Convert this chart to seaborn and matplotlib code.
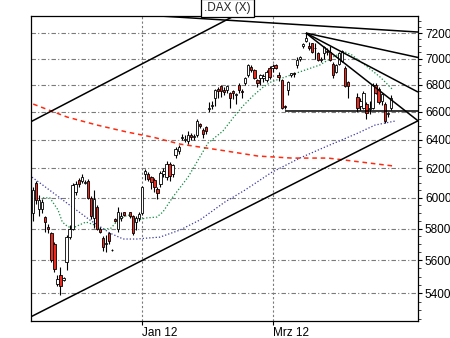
import numpy as np
import pandas as pd
import matplotlib
matplotlib.use("Agg")
import matplotlib.pyplot as plt
import seaborn as sns
from matplotlib.ticker import FixedLocator, NullFormatter

# ---------------- data (weekday index, 0 = 2 Jan 2012) ----------------
day = [-36, -35, -34, -33, -32, -31, -30, -29, -28, -27, -26, -25, -24, -23, -22, -21, -20, -19,
       -18, -17, -16, -15, -14, -13, -12, -11, -10, -9, -8, -7, -6, -4, -3, -2, -1,
       0, 1, 2, 3, 4, 5, 6, 7, 8, 9, 10, 11, 12, 13, 14, 15, 16, 17, 18, 19, 20, 21,
       22, 23, 24, 25, 26, 27, 28, 29, 30, 31, 32, 33, 34, 35, 36, 37, 38, 39, 40, 41, 42,
       43, 44, 45, 46, 47, 48, 49, 50, 51, 52, 53, 54, 55, 56, 57, 58, 59, 60, 61, 62, 63, 64,
       65, 66, 67, 68, 71, 72, 73, 74, 75, 76, 77, 78, 79, 80, 81, 82]
open_ = [5900, 6100, 5925, 5925, 5875, 5810, 5770, 5700, 5455, 5510, 5480, 5590, 5745, 5800, 6040, 6120, 6110, 6100,
         6110, 6000, 5870, 5940, 5800, 5740, 5700, 5770, 5665, 5860, 5800, 5870, 5905, 5905, 5880, 5840, 5870,
         5900, 6160, 6160, 6140, 6120, 6060, 6090, 6160, 6140, 6230, 6160, 6290, 6320, 6410, 6400, 6390, 6435, 6420, 6430, 6510, 6470, 6490,
         6620, 6640, 6700, 6770, 6790, 6760, 6760, 6735, 6750, 6720, 6800, 6750, 6810, 6870, 6935, 6910, 6835, 6850, 6850, 6835, 6930,
         6925, 6950, 6870, 6835, 6640, 6760, 6875, 6890, 6950, 7000, 7095, 7140, 7100, 7120, 7085, 7040, 6990, 7040, 7060, 7050, 6960, 6900,
         6960, 6980, 6930, 6820, 6710, 6640, 6630, 6660, 6620, 6630, 6800, 6770, 6680, 6660, 6580, 6630]
high = [6075, 6115, 6020, 5995, 5880, 5830, 5780, 5715, 5510, 5560, 5500, 5760, 5820, 6100, 6110, 6130, 6160, 6120,
        6125, 6010, 6050, 5950, 5810, 5750, 5760, 5780, 5668, 5865, 5940, 5910, 5910, 5910, 5890, 5880, 5910,
        6080, 6195, 6175, 6150, 6130, 6070, 6180, 6200, 6250, 6245, 6230, 6345, 6360, 6440, 6430, 6460, 6445, 6440, 6545, 6520, 6480, 6500,
        6670, 6680, 6770, 6780, 6800, 6780, 6800, 6745, 6760, 6740, 6810, 6770, 6860, 6960, 6950, 6920, 6845, 6880, 6880, 6910, 6940,
        6960, 6960, 6900, 6840, 6650, 6830, 6890, 6900, 7010, 7020, 7120, 7200, 7130, 7125, 7120, 7050, 7010, 7100, 7080, 7100, 6970, 6960,
        7050, 7070, 6940, 6830, 6740, 6700, 6750, 6670, 6680, 6810, 6810, 6780, 6740, 6670, 6600, 6720]
low = [5850, 5960, 5880, 5900, 5780, 5770, 5590, 5530, 5440, 5390, 5470, 5540, 5730, 5790, 6020, 6070, 6100, 6090,
       5990, 5860, 5805, 5790, 5770, 5660, 5650, 5700, 5660, 5845, 5780, 5850, 5880, 5870, 5760, 5790, 5850,
       5890, 6120, 6110, 6060, 6040, 5995, 6070, 6140, 6120, 6110, 6140, 6270, 6300, 6400, 6380, 6370, 6400, 6400, 6420, 6480, 6410, 6440,
       6600, 6620, 6640, 6700, 6710, 6720, 6740, 6630, 6690, 6660, 6740, 6700, 6800, 6860, 6900, 6840, 6780, 6800, 6820, 6820, 6840,
       6900, 6920, 6830, 6620, 6620, 6720, 6860, 6860, 6930, 6980, 7080, 7130, 7070, 7040, 7000, 6980, 6970, 7000, 7030, 6980, 6850, 6890,
       6950, 6970, 6780, 6700, 6600, 6610, 6620, 6545, 6580, 6620, 6730, 6660, 6650, 6515, 6560, 6610]
close = [6050, 5985, 5985, 5975, 5840, 5800, 5600, 5545, 5485, 5440, 5490, 5745, 5800, 6085, 6090, 6090, 6140, 6105,
         6000, 5880, 5990, 5800, 5780, 5680, 5710, 5720, 5663, 5850, 5910, 5880, 5890, 5880, 5770, 5870, 5895,
         6075, 6180, 6125, 6105, 6070, 6030, 6170, 6180, 6230, 6150, 6220, 6335, 6350, 6420, 6405, 6435, 6420, 6422, 6530, 6500, 6440, 6460,
         6630, 6650, 6760, 6750, 6750, 6745, 6790, 6700, 6735, 6730, 6760, 6745, 6850, 6950, 6910, 6850, 6810, 6870, 6865, 6900, 6860,
         6945, 6930, 6860, 6630, 6635, 6820, 6885, 6880, 6990, 7010, 7115, 7160, 7080, 7050, 7080, 6990, 7000, 7090, 7050, 6990, 6870, 6950,
         7040, 7060, 6790, 6790, 6630, 6680, 6740, 6590, 6630, 6800, 6740, 6670, 6730, 6530, 6590, 6700]

# moving averages (day index, level)
ma_red_day = [-36, -24.8, -14.9, -5.0, 3.5, 12.4, 25.6, 38.2, 49.4, 61.3, 66.9, 83.4]
ma_red_val = [6656, 6561, 6503, 6453, 6417, 6368, 6326, 6284, 6270, 6270, 6256, 6214]
ma_blue_day = [-36.4, -32.8, -24.9, -17.3, -10.7, -6.3, -1.7, 1.6, 5.8, 12.4, 19.0, 27.3, 33.9,
               42.8, 45.4, 52.0, 60.3, 71.2, 76.8, 83.4]
ma_blue_val = [6139, 6085, 5966, 5855, 5771, 5733, 5733, 5739, 5745, 5790, 5855, 5973, 6052,
               6173, 6200, 6270, 6347, 6446, 6503, 6532]
ma_green_day = [-32.8, -30.5, -27.8, -26.4, -24.5, -22.2, -18.6, -15.6, -13.6, -10.3, -8.0, -4.7,
                -1.4, 1.2, 4.8, 6.8, 10.1, 15.1, 18.4, 21.7, 26.6, 29.9, 33.2, 36.5, 39.5, 42.5,
                49.1, 53.7, 58.6, 63.6, 66.9, 69.2, 73.5, 78.5, 82.8]
ma_green_val = [6000, 6000, 5920, 5842, 5810, 5810, 5842, 5822, 5790, 5803, 5855, 5888,
                5855, 5868, 5874, 5907, 6006, 6139, 6256, 6375, 6460, 6553, 6641, 6716, 6775, 6821,
                6874, 6911, 6950, 7020, 7051, 7027, 6950, 6858, 6760]

# trend lines (day index, level) pairs
trend_lines = [
    ([-36.7, 33.0], [6528, 7372]),   # upper channel
    ([-36.7, 91.0], [5261, 6534]),   # lower channel
    ([5.8, 91.0], [7337, 7208]),     # long-term resistance
    ([54.0, 91.0], [7200, 7008]),    # fan 1
    ([54.0, 91.0], [7200, 6745]),    # fan 2
    ([54.0, 91.0], [7200, 6534]),    # fan 3
    ([47.0, 91.0], [6608, 6608]),    # support
]

y_ticks = [5400, 5600, 5800, 6000, 6200, 6400, 6600, 6800, 7000, 7200]
x_ticks = [0, 43]
x_labels = ["Jan 12", "Mrz 12"]
title = ".DAX (X)"

# ---------------- drawing ----------------
sns.set_style("white")
plt.rcParams["font.family"] = ["Liberation Sans", "DejaVu Sans"]

fig = plt.figure(figsize=(4.5, 3.38), dpi=100)
ax = fig.add_axes([31 / 450, 17 / 338, 387 / 450, 305 / 338])
ax.set_yscale("log")

df = pd.DataFrame({"day": day, "open": open_, "high": high, "low": low, "close": close})
up = df["close"] >= df["open"]
ax.vlines(df["day"], df["low"], df["high"], color="black", lw=0.8, zorder=3)
bottoms = np.minimum(df["open"], df["close"])
heights = np.maximum(np.abs(df["close"] - df["open"]), 2.0)
ax.bar(df["day"], heights, bottom=bottoms, width=0.75,
       color=np.where(up, "white", "#ee2a1e"), edgecolor="black", lw=0.6, zorder=4)

sns.lineplot(x=ma_red_day, y=ma_red_val, ax=ax, color="#ff2a10", lw=1.1,
             linestyle=(0, (3, 2.5)), sort=False, estimator=None, zorder=2)
sns.lineplot(x=ma_blue_day, y=ma_blue_val, ax=ax, color="#3a3aa0", lw=0.9,
             linestyle=(0, (1, 1.6)), sort=False, estimator=None, zorder=2)
sns.lineplot(x=ma_green_day, y=ma_green_val, ax=ax, color="#108a40", lw=0.9,
             linestyle=(0, (1, 1.6)), sort=False, estimator=None, zorder=2)

for xs, ys in trend_lines:
    ax.plot(xs, ys, color="black", lw=1.1, zorder=5, solid_capstyle="butt")

ax.set_xlim(-36.73, 91.0)
ax.set_ylim(5236, 7337)

ax.yaxis.tick_right()
ax.set_yticks(y_ticks, [str(v) for v in y_ticks])
minor = [v for v in range(5250, 7350, 50) if v not in y_ticks]
ax.yaxis.set_minor_locator(FixedLocator(minor))
ax.yaxis.set_minor_formatter(NullFormatter())
ax.tick_params(axis="y", which="major", length=3, width=0.8, pad=2, labelsize=8.5,
               colors="black", right=True, left=False)
ax.tick_params(axis="y", which="minor", length=2, width=0.6, right=True, left=False)

ax.set_xticks(x_ticks, x_labels)
for lab in ax.get_xticklabels():
    lab.set_horizontalalignment("left")
ax.tick_params(axis="x", which="major", length=3, width=0.8, pad=1, labelsize=8.5,
               colors="black", bottom=True)

ax.grid(True, axis="y", which="major", color="#7a7a7a", linestyle=(0, (4, 2, 1, 2)), lw=0.8)
ax.grid(True, axis="x", which="major", color="#7a7a7a", linestyle=(0, (2, 2)), lw=0.8)
ax.set_axisbelow(True)
for s in ax.spines.values():
    s.set_color("black")
    s.set_linewidth(0.9)
    s.set_visible(True)
ax.set_xlabel("")
ax.set_ylabel("")

fig.text(0.505, 0.977, title, ha="center", va="center", fontsize=8.5,
         bbox=dict(boxstyle="square,pad=0.25", fc="white", ec="black", lw=0.9))

fig.savefig("out.png", dpi=100)
